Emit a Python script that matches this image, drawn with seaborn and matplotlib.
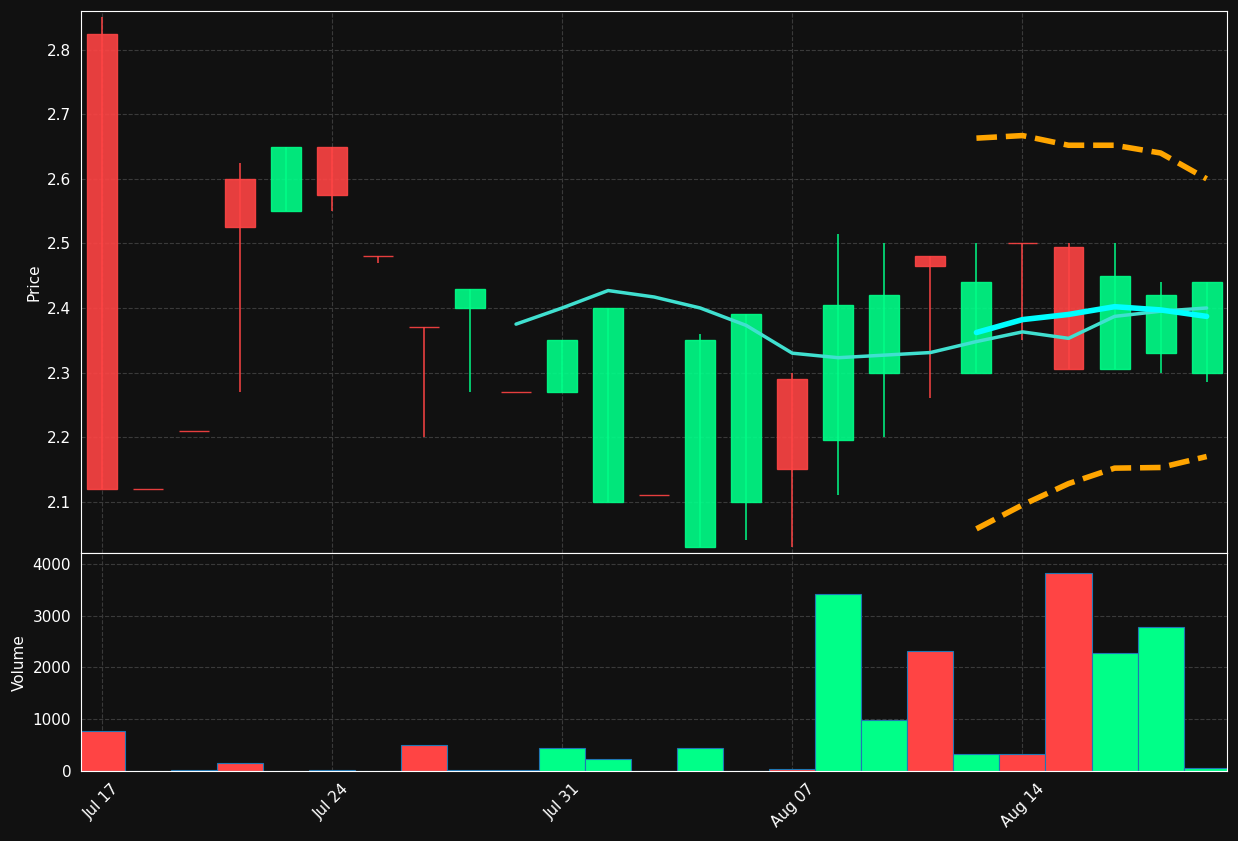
import matplotlib
matplotlib.use('Agg')
import matplotlib.pyplot as plt
import seaborn as sns
import numpy as np

dates = ['Jul 17', 'Jul 18', 'Jul 19', 'Jul 20', 'Jul 21',
         'Jul 24', 'Jul 25', 'Jul 26', 'Jul 27', 'Jul 28',
         'Jul 31', 'Aug 01', 'Aug 02', 'Aug 03', 'Aug 04',
         'Aug 07', 'Aug 08', 'Aug 09', 'Aug 10', 'Aug 11',
         'Aug 14', 'Aug 15', 'Aug 16', 'Aug 17', 'Aug 18']
opens = [2.825, 2.12, 2.21, 2.60, 2.55, 2.65, 2.48, 2.37, 2.40, 2.27,
         2.27, 2.10, 2.11, 2.03, 2.10, 2.29, 2.195, 2.30, 2.48, 2.30,
         2.50, 2.495, 2.305, 2.33, 2.30]
highs = [2.85, 2.12, 2.21, 2.625, 2.65, 2.65, 2.48, 2.37, 2.43, 2.27,
         2.35, 2.40, 2.11, 2.36, 2.39, 2.30, 2.515, 2.50, 2.48, 2.50,
         2.50, 2.50, 2.50, 2.44, 2.44]
lows = [2.12, 2.12, 2.21, 2.27, 2.55, 2.55, 2.47, 2.20, 2.27, 2.27,
        2.27, 2.10, 2.11, 2.03, 2.04, 2.03, 2.11, 2.20, 2.26, 2.30,
        2.35, 2.305, 2.305, 2.30, 2.285]
closes = [2.12, 2.12, 2.21, 2.525, 2.65, 2.575, 2.48, 2.37, 2.43, 2.27,
          2.35, 2.40, 2.11, 2.35, 2.39, 2.15, 2.405, 2.42, 2.465, 2.44,
          2.50, 2.305, 2.45, 2.42, 2.44]
volumes = [780, 5, 20, 150, 10, 20, 10, 500, 20, 20,
           450, 230, 10, 450, 10, 50, 3420, 980, 2320, 340,
           340, 3820, 2280, 2780, 70]
ma_slow = [2.375, 2.40, 2.427, 2.417, 2.40, 2.373, 2.33, 2.323, 2.327, 2.331,
           2.348, 2.363, 2.353, 2.387, 2.395, 2.40]
ma_fast = [2.362, 2.382, 2.39, 2.402, 2.397, 2.387]
band_upper = [2.663, 2.667, 2.652, 2.652, 2.64, 2.60]
band_lower = [2.058, 2.095, 2.128, 2.152, 2.153, 2.17]

RED = '#ff4444'
GREEN = '#00ff88'
BG = '#111111'

sns.set_style('darkgrid', {'axes.facecolor': BG, 'figure.facecolor': BG,
                           'axes.edgecolor': 'white', 'text.color': 'white',
                           'axes.labelcolor': 'white', 'xtick.color': 'white',
                           'ytick.color': 'white'})
plt.rcParams['font.size'] = 11

fig = plt.figure(figsize=(12.38, 8.41), dpi=100)
ax1 = fig.add_axes([0.0654, 0.342, 0.926, 0.645])
ax2 = fig.add_axes([0.0654, 0.083, 0.926, 0.259], sharex=ax1)

x = np.arange(len(dates))
o = np.array(opens); c = np.array(closes)
up = c > o
colors = np.where(up, GREEN, RED)

ax1.vlines(x, lows, highs, colors=colors, linewidth=1.2, alpha=0.9)
body_h = np.abs(c - o)
ax1.bar(x, np.where(body_h == 0, 0.0001, body_h), bottom=np.minimum(o, c),
        width=0.65, color=colors, alpha=0.9, edgecolor=colors, linewidth=1)
ax1.plot(x[9:], ma_slow, color='#40e0d0', linewidth=2.5)
ax1.plot(x[19:], ma_fast, color='cyan', linewidth=4)
ax1.plot(x[19:], band_upper, color='orange', linewidth=4, linestyle='--')
ax1.plot(x[19:], band_lower, color='orange', linewidth=4, linestyle='--')
ax1.set_ylim(2.02, 2.86)
ax1.set_ylabel('Price')
ax1.tick_params(axis='x', labelbottom=False)

ax2.bar(x, volumes, width=1.0, color=colors, edgecolor='#1f77b4', linewidth=0.8)
ax2.set_ylim(0, 4200)
ax2.set_ylabel('Volume')
ax2.set_xlim(-0.45, 24.45)
ticks = [0, 5, 10, 15, 20]
ax2.set_xticks(ticks)
ax2.set_xticklabels([dates[i] for i in ticks], rotation=45)

for ax in (ax1, ax2):
    ax.grid(True, color='#3a3a3a', linestyle='--', linewidth=0.8)
    ax.tick_params(labelsize=11)
    for s in ax.spines.values():
        s.set_color('white')

fig.savefig('out.png', dpi=100, facecolor=BG)
